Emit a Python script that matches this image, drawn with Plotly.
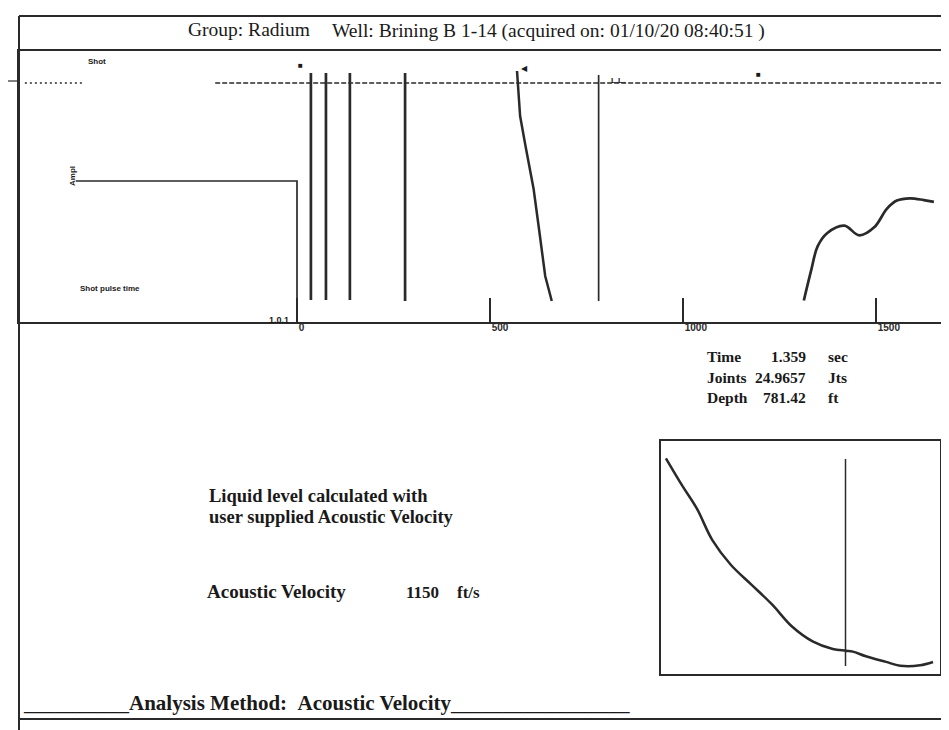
import plotly.graph_objects as go

# page body keeps its default 8px margin, so the figure is 8px smaller and
# every pixel position below is taken relative to the 949x730 window
W, H = 949, 730
OFF = 8
FW, FH = W - OFF, H - OFF

# ---------------- data ----------------
# upper acoustic trace panel: x = depth (ft), y = relative amplitude
depth_ticks = [0, 500, 1000, 1500]
step_x = [-573, 0, 0]
step_y = [141, 141, 0]
spike_depth = [36, 75, 137, 280]
spike_top = [249, 249, 249, 249]
spike_bottom = [22, 22, 22, 21]
collar_x = [570, 578, 592, 613, 628, 643, 660]
collar_y = [251, 206, 176, 133, 90, 46, 21]
liquid_depth = 781.42
liquid_top = 247
liquid_bottom = 21
tail_x = [1313, 1332, 1349, 1374, 1418, 1457, 1496, 1528, 1554, 1588, 1624, 1650]
tail_y = [21.5, 51.7, 75.8, 89, 96.3, 86.6, 94.9, 113.2, 121.4, 123.7, 121.9, 120.1]
ref_level = 239
ref_dot_x = [-705, -557]
ref_dash_x = [-212, 1676]

# inset (zoom around the liquid level)
inset_x = [4.9, 21.4, 35.9, 51.5, 70, 90.4, 110.8, 131.3, 151.6, 171.8, 184.8,
           191.8, 204.9, 225, 239.1, 259.1, 272]
inset_y = [215.7, 188.1, 165.3, 133.6, 109, 89.4, 69.8, 47.2, 32.6, 25, 23.3,
           22.4, 17.7, 12.1, 8.3, 8.7, 12]
inset_marker = 184.5
inset_marker_top = 215
inset_marker_bottom = 8

# texts
title_left = "Group: Radium"
title_right = "Well: Brining B 1-14 (acquired on: 01/10/20 08:40:51 )"
info_labels = ["Time", "Joints", "Depth"]
info_values = ["1.359", "24.9657", "781.42"]
info_units = ["sec", "Jts", "ft"]

INK = "#2a2a2a"
SERIF = "Liberation Serif"


def px(x):
    return (x - OFF) / FW


def py(y):
    return 1 - (y - OFF) / FH


# upper panel geometry (window pixels) and depth scale
UP_L, UP_R, UP_T, UP_B = 19, 944, 51, 322
ZERO_PX, PX_PER_FT = 297, 0.386
x_lo = (UP_L - ZERO_PX) / PX_PER_FT
x_hi = (UP_R - ZERO_PX) / PX_PER_FT

# inset geometry (window pixels)
IN_L, IN_R, IN_T, IN_B = 661, 940, 441, 674

fig = go.Figure()

line_kw = dict(mode="lines", hoverinfo="skip", showlegend=False)

# step trace
fig.add_trace(go.Scatter(x=step_x, y=step_y, line=dict(color=INK, width=1.7), **line_kw))
# reference level (dotted + dashed)
fig.add_trace(go.Scatter(x=ref_dot_x, y=[ref_level] * 2,
                         line=dict(color=INK, width=1.3, dash="2px,3px"), **line_kw))
fig.add_trace(go.Scatter(x=ref_dash_x, y=[ref_level] * 2,
                         line=dict(color=INK, width=1.3, dash="5px,2px"), **line_kw))
# spikes
sx, sy = [], []
for d, t, b in zip(spike_depth, spike_top, spike_bottom):
    sx += [d, d, None]
    sy += [t, b, None]
fig.add_trace(go.Scatter(x=sx, y=sy, line=dict(color=INK, width=2.7), **line_kw))
# collar curve
fig.add_trace(go.Scatter(x=collar_x, y=collar_y, line=dict(color=INK, width=2.5), **line_kw))
# liquid level marker
fig.add_trace(go.Scatter(x=[liquid_depth, liquid_depth], y=[liquid_top, liquid_bottom],
                         line=dict(color=INK, width=1.7), **line_kw))
# tail curve
fig.add_trace(go.Scatter(x=tail_x, y=tail_y, line=dict(color=INK, width=2.7, shape="spline"),
                         **line_kw))

# inset
fig.add_trace(go.Scatter(x=inset_x, y=inset_y, xaxis="x2", yaxis="y2",
                         line=dict(color=INK, width=2.5, shape="spline"), **line_kw))
fig.add_trace(go.Scatter(x=[inset_marker, inset_marker],
                         y=[inset_marker_top, inset_marker_bottom], xaxis="x2", yaxis="y2",
                         line=dict(color=INK, width=1.5), **line_kw))

frame = dict(showline=True, mirror=True, linecolor=INK, linewidth=2,
             showgrid=False, zeroline=False)

fig.update_layout(
    width=FW, height=FH, autosize=False,
    margin=dict(l=0, r=0, t=0, b=0),
    paper_bgcolor="white", plot_bgcolor="rgba(0,0,0,0)",
    xaxis=dict(domain=[px(UP_L), px(UP_R)], range=[x_lo, x_hi], **frame,
               tickvals=depth_ticks, ticktext=[f"<b>{v}</b>" for v in depth_ticks],
               ticks="inside", ticklen=24, tickwidth=1.5, tickcolor=INK,
               ticklabelposition="outside right", ticklabelstandoff=-5,
               tickfont=dict(family="Liberation Sans", size=10, color=INK)),
    yaxis=dict(domain=[py(UP_B), py(UP_T)], range=[0, UP_B - UP_T], **frame,
               showticklabels=False, ticks=""),
    xaxis2=dict(domain=[px(IN_L), px(IN_R)], range=[0, IN_R - IN_L], anchor="y2",
                **frame, showticklabels=False, ticks=""),
    yaxis2=dict(domain=[py(IN_B), py(IN_T)], range=[0, IN_B - IN_T], anchor="x2",
                **frame, showticklabels=False, ticks=""),
)

# outer frame
shp = dict(type="line", xref="paper", yref="paper", line=dict(color=INK, width=2))
fig.add_shape(x0=px(19), x1=px(944), y0=py(16), y1=py(16), **shp)
fig.add_shape(x0=px(19), x1=px(19), y0=py(16), y1=py(730), **shp)
fig.add_shape(x0=px(944), x1=px(944), y0=py(16), y1=py(730), **shp)
fig.add_shape(x0=px(19), x1=px(944), y0=py(719), y1=py(719), **shp)
fig.add_shape(x0=px(8), x1=px(19), y0=py(81), y1=py(81),
              type="line", xref="paper", yref="paper", line=dict(color=INK, width=1.2))


def note(x, y, text, size, xanchor="left", bold=False, family=SERIF, angle=0, yanchor="middle"):
    fig.add_annotation(x=px(x), y=py(y), xref="paper", yref="paper", text=text,
                       showarrow=False, xanchor=xanchor, yanchor=yanchor, textangle=angle,
                       font=dict(family=family, size=size, color="#1a1a1a",
                                 weight="bold" if bold else "normal"))


note(186, 29, title_left, 19.5)
note(330, 31, title_right, 19.5)

# small marker labels in the upper panel
note(97, 62, "Shot", 8, xanchor="center", bold=True, family="Liberation Sans")
note(72, 176, "Ampl", 8, xanchor="center", bold=True, family="Liberation Sans", angle=-90)
note(78, 289, "Shot pulse time", 8, bold=True, family="Liberation Sans")
note(300, 65, "\u25a0", 8, xanchor="center")
note(524, 69, "\u25c0", 8, xanchor="center")
note(609, 80, "L.L.", 8, bold=True, family="Liberation Sans")
note(758, 74, "\u25a0", 8, xanchor="center")
note(291, 320, "<b>1.0.1</b>", 9, xanchor="right", family="Liberation Sans")

# result block
for i, (lab, val, unit) in enumerate(zip(info_labels, info_values, info_units)):
    y = 357 + 20.5 * i
    note(705, y, lab, 15.5, bold=True)
    note(808, y, val, 15.5, xanchor="right", bold=True)
    note(826, y, unit, 15.5, bold=True)

note(207, 496, "Liquid level calculated with", 18.5, bold=True)
note(207, 517, "user supplied Acoustic Velocity", 18.5, bold=True)
note(205, 591, "Acoustic Velocity", 19, bold=True)
note(441, 592, "1150", 17, xanchor="right", bold=True)
note(455, 592, "ft/s", 17, bold=True)

note(21, 703, "__________<b>Analysis Method:\u00a0\u00a0Acoustic Velocity</b>_________________",
     21)

fig.write_html("out.html")
